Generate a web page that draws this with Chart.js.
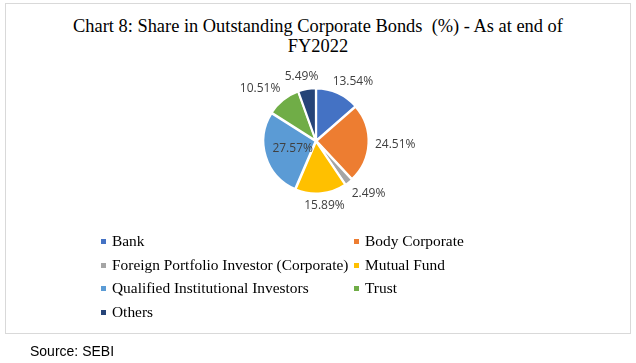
<!DOCTYPE html>
<html>
<head>
<meta charset="utf-8">
<script src="https://cdn.jsdelivr.net/npm/chart.js@4.4.1/dist/chart.umd.min.js"></script>
<style>
  html, body { margin: 0; padding: 0; background: #fff; }
  #wrap { position: relative; width: 636px; height: 363px; overflow: hidden; }
  #frame { position: absolute; left: 5px; top: 3px; width: 624px; height: 329px; border: 1px solid #d9d9d9; }
  #title { position: absolute; left: 0; top: 16px; width: 636px; text-align: center;
           font-family: "Liberation Serif", "Times New Roman", serif; font-size: 18.4px; line-height: 20px; color: #000; }
  #chart { position: absolute; left: 0; top: 0; }
  #legend { position: absolute; left: 101px; top: 232px; width: 440px;
            font-family: "Liberation Serif", "Times New Roman", serif; font-size: 15.4px; color: #000; }
  .item { position: absolute; white-space: nowrap; line-height: 18px; }
  .box { position: absolute; left: 0; top: 7px; width: 5px; height: 5px; }
  .txt { position: absolute; left: 11px; top: 0; }
  #source { position: absolute; left: 30px; top: 343px; font-family: "Liberation Sans", Arial, sans-serif; font-size: 14px; color: #000; }
</style>
</head>
<body>
<div id="wrap">
  <div id="frame"></div>
  <div id="title">Chart 8: Share in Outstanding Corporate Bonds&nbsp; (%) - As at end of<br>FY2022</div>
  <canvas id="chart" width="636" height="363"></canvas>
  <div id="legend"></div>
  <div id="source">Source: SEBI</div>
</div>
<script>
const categories = [
  'Bank',
  'Body Corporate',
  'Foreign Portfolio Investor (Corporate)',
  'Mutual Fund',
  'Qualified Institutional Investors',
  'Trust',
  'Others'
];
const shares = [13.54, 24.51, 2.49, 15.89, 27.57, 10.51, 5.49];
const colors = ['#4472C4', '#ED7D31', '#A5A5A5', '#FFC000', '#5B9BD5', '#70AD47', '#264478'];
const insideLabels = ['Qualified Institutional Investors'];

// data labels next to each slice, roughly like Excel "best fit"
const sliceLabels = {
  id: 'sliceLabels',
  afterDatasetsDraw(chart) {
    const ctx = chart.ctx;
    const meta = chart.getDatasetMeta(0);
    const clamp = t => Math.max(-1, Math.min(1, t));
    ctx.save();
    ctx.font = '12px "Open Sans", "Noto Sans", sans-serif';
    ctx.fillStyle = '#404040';
    ctx.textAlign = 'center';
    ctx.textBaseline = 'middle';
    meta.data.forEach((arc, i) => {
      const p = arc.getProps(['x', 'y', 'startAngle', 'endAngle', 'outerRadius'], true);
      const mid = (p.startAngle + p.endAngle) / 2;
      const dx = Math.cos(mid), dy = Math.sin(mid);
      const text = shares[i].toFixed(2) + '%';
      const w = ctx.measureText(text).width;
      let x, y;
      if (insideLabels.includes(categories[i])) {
        x = p.x + dx * p.outerRadius * 0.47;
        y = p.y + dy * p.outerRadius * 0.47;
      } else {
        const r = p.outerRadius + 7;
        x = p.x + dx * r + clamp(dx * 1.5) * w / 2;
        y = p.y + dy * r + clamp(dy * 1.5) * 6;
      }
      ctx.fillText(text, x, y);
    });
    ctx.restore();
  }
};

const chart = new Chart(document.getElementById('chart'), {
  type: 'pie',
  data: {
    labels: categories,
    datasets: [{
      data: shares,
      backgroundColor: colors,
      borderColor: '#ffffff',
      borderWidth: 2,
      offset: 2
    }]
  },
  options: {
    responsive: false,
    animation: false,
    radius: 52,
    layout: { padding: { left: 216, right: 220, top: 41, bottom: 122 } },
    plugins: {
      legend: { display: false },
      tooltip: { enabled: false }
    }
  },
  plugins: [sliceLabels]
});

// two-column legend built from the chart's own legend items
const legendEl = document.getElementById('legend');
const items = chart.options.plugins.legend.labels.generateLabels(chart);
items.forEach((it, i) => {
  const col = i % 2, row = Math.floor(i / 2);
  const div = document.createElement('div');
  div.className = 'item';
  div.style.left = (col * 253) + 'px';
  div.style.top = (row * 23.5) + 'px';
  div.innerHTML = '<span class="box" style="background:' + it.fillStyle + '"></span><span class="txt">' + it.text + '</span>';
  legendEl.appendChild(div);
});
</script>
</body>
</html>
